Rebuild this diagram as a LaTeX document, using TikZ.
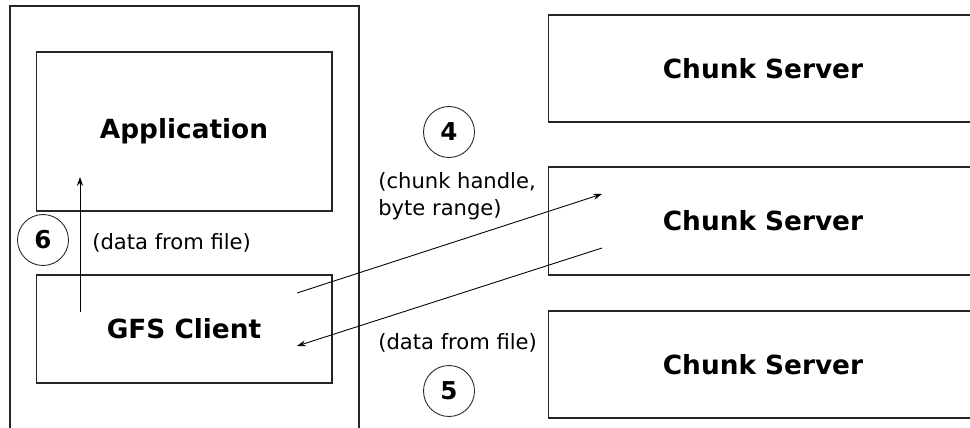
\documentclass[tikz,border=0pt]{standalone}
\usepackage{fontspec}
\setmainfont{DejaVu Sans}
\usetikzlibrary{arrows.meta}

\tikzset{
  box/.style={draw=black!85, line width=0.6pt, inner sep=0pt, font=\fontsize{15}{18}\selectfont\bfseries},
  num/.style={draw=black!85, circle, line width=0.5pt, minimum size=1.02cm, inner sep=0pt, font=\fontsize{14}{16}\selectfont\bfseries},
  lbl/.style={align=left, inner sep=0pt, font=\fontsize{12}{15.4}\selectfont},
  link/.style={line width=0.5pt, -{Stealth[length=5pt,width=3.5pt]}}
}

\begin{document}
\begin{tikzpicture}[x=0.02cm,y=-0.02cm]
\useasboundingbox (0,0) rectangle (970,427);
\clip (0,0) rectangle (970,427);
% client machine
\draw[line width=0.6pt, black!85] (10,6) rectangle (359,440);
\node[box, minimum width=5.92cm, minimum height=3.18cm] (app) at (184,131.5) {Application};
\node[box, minimum width=5.92cm, minimum height=2.16cm] (client) at (184,329) {GFS Client};
% chunk servers
\node[box, minimum width=8.6cm, minimum height=2.14cm] (cs1) at (763,68.5) {Chunk Server};
\node[box, minimum width=8.6cm, minimum height=2.16cm] (cs2) at (763,221) {Chunk Server};
\node[box, minimum width=8.6cm, minimum height=2.14cm] (cs3) at (763,364.5) {Chunk Server};
% steps
\node[num] (n4) at (449,132) {4};
\node[num] (n5) at (449,391) {5};
\node[num] (n6) at (43,240) {6};
\node[lbl, anchor=north west] (req) at (378,172) {(chunk handle,\\byte range)};
\node[lbl, anchor=west] (reply) at (378,343) {(data from file)};
\node[lbl, anchor=west] (up) at (92,243) {(data from file)};
% arrows
\coordinate (c1) at (297,293);
\coordinate (s1) at (602,194);
\coordinate (s2) at (602,248);
\coordinate (c2) at (297,346);
\coordinate (c3) at (80,312);
\coordinate (a1) at (80,177);
\draw[link] (c1) -- (s1);
\draw[link] (s2) -- (c2);
\draw[link] (c3) -- (a1);
\end{tikzpicture}
\end{document}
